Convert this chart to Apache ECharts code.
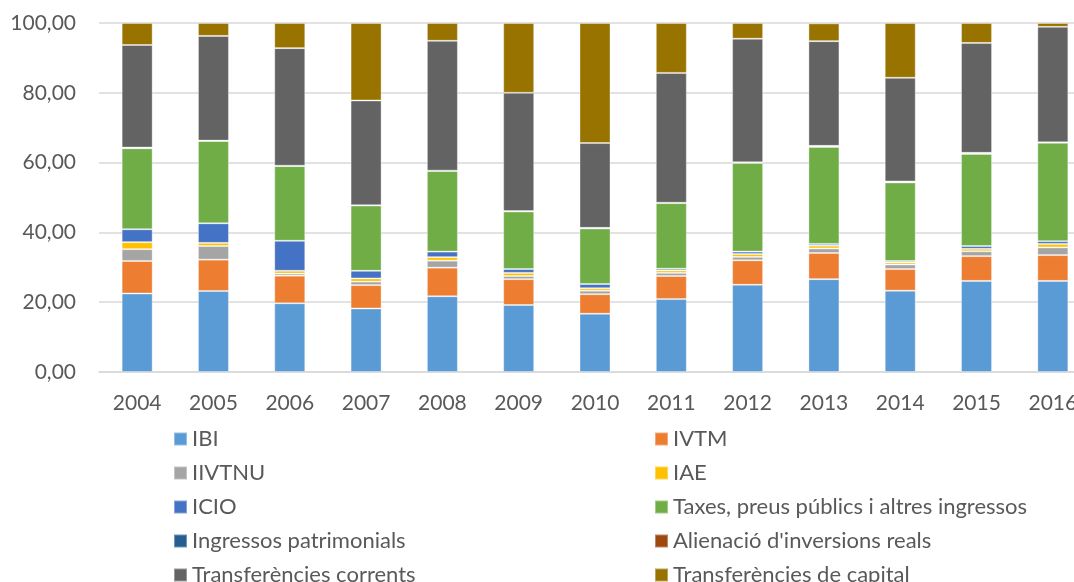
<!DOCTYPE html>
<html>
<head>
<meta charset="utf-8">
<script src="https://cdn.jsdelivr.net/npm/echarts@6/dist/echarts.min.js"></script>
<style>
  html, body { margin: 0; padding: 0; background: #fff; }
  #chart { width: 1074px; height: 582px; }
</style>
</head>
<body>
<div id="chart"></div>
<script>
var years = ['2004', '2005', '2006', '2007', '2008', '2009', '2010', '2011', '2012', '2013', '2014', '2015', '2016'];

var ibi        = [22.5, 23.2, 19.7, 18.2, 21.7, 19.2, 16.7, 20.9, 25.0, 26.6, 23.3, 26.1, 26.1];
var ivtm       = [9.3, 9.0, 7.9, 6.7, 8.2, 7.4, 5.6, 6.6, 7.0, 7.5, 6.2, 7.1, 7.4];
var iivtnu     = [3.4, 3.9, 0.6, 1.0, 2.0, 0.9, 1.0, 0.9, 1.0, 1.3, 1.3, 1.4, 2.2];
var iae        = [2.0, 0.9, 0.8, 0.9, 1.0, 0.9, 0.7, 0.7, 0.8, 0.8, 0.6, 0.7, 1.0];
var icio       = [3.7, 5.6, 8.6, 2.2, 1.6, 1.1, 1.2, 0.5, 0.7, 0.5, 0.4, 0.8, 0.8];
var taxes      = [23.2, 23.6, 21.4, 18.7, 23.1, 16.5, 15.9, 18.8, 25.4, 27.8, 22.5, 26.4, 28.2];
var patrimoni  = [0.2, 0.1, 0.1, 0.1, 0.1, 0.1, 0.2, 0.1, 0.2, 0.3, 0.3, 0.3, 0.1];
var alienacio  = [0.0, 0.0, 0.0, 0.0, 0.0, 0.0, 0.0, 0.0, 0.0, 0.0, 0.0, 0.0, 0.0];
var corrents   = [29.4, 30.0, 33.7, 30.0, 37.2, 33.9, 24.3, 37.2, 35.4, 30.0, 29.7, 31.5, 33.1];
var capital    = [6.3, 3.7, 7.2, 22.2, 5.1, 20.0, 34.4, 14.3, 4.5, 5.1, 15.7, 5.7, 1.1];

var names = ['IBI', 'IVTM', 'IIVTNU', 'IAE', 'ICIO', 'Taxes, preus públics i altres ingressos',
  'Ingressos patrimonials', "Alienació d'inversions reals", 'Transferències corrents', 'Transferències de capital'];
var values = [ibi, ivtm, iivtnu, iae, icio, taxes, patrimoni, alienacio, corrents, capital];
var colors = ['#5B9BD5', '#ED7D31', '#A5A5A5', '#FFC000', '#4472C4', '#70AD47', '#255E91', '#9E480E', '#636363', '#997300'];

var font = 'Lato, "Open Sans", sans-serif';

var series = names.map(function (n, i) {
    return {
        name: n,
        type: 'bar',
        stack: 'total',
        barWidth: 31,
        data: values[i],
        itemStyle: { color: colors[i], borderColor: 'rgba(255,255,255,0.35)', borderWidth: 1 }
    };
});

function legendBox(left, list) {
    return {
        orient: 'vertical',
        left: left,
        top: 423,
        height: 220,
        itemWidth: 13,
        itemHeight: 13,
        itemGap: 12,
        icon: 'rect',
        data: list,
        textStyle: { fontFamily: font, fontSize: 22, color: '#595959', lineHeight: 22 }
    };
}

var myChart = echarts.init(document.getElementById('chart'));
var option = {
    animation: false,
    color: colors,
    grid: { left: 99, width: 992, top: 23, bottom: 210, outerBoundsMode: 'none', containLabel: false },
    legend: [
        legendBox(168, [names[0], names[2], names[4], names[6], names[8]]),
        legendBox(649, [names[1], names[3], names[5], names[7], names[9]])
    ],
    xAxis: {
        type: 'category',
        data: years,
        axisLine: { lineStyle: { color: '#D9D9D9', width: 1.5 } },
        axisTick: { show: false },
        axisLabel: { fontFamily: font, fontSize: 21, color: '#595959', margin: 21 }
    },
    yAxis: {
        type: 'value',
        min: 0,
        max: 100,
        interval: 20,
        axisLine: { show: false },
        axisTick: { show: false },
        splitLine: { lineStyle: { color: '#D9D9D9', width: 1.5 } },
        axisLabel: {
            fontFamily: font, fontSize: 21, color: '#595959', margin: 23,
            formatter: function (v) { return v.toFixed(2).replace('.', ','); }
        }
    },
    series: series
};
myChart.setOption(option);
window.addEventListener('resize', function () {
    myChart.resize();
});
</script>
</body>
</html>
